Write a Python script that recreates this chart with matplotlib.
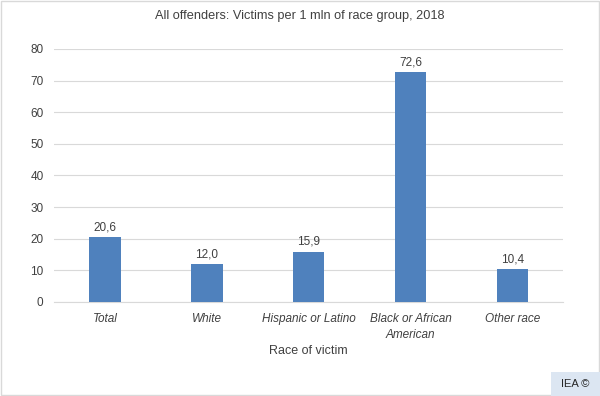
import numpy as np
import matplotlib
matplotlib.use('Agg')
import matplotlib.pyplot as plt
from matplotlib.patches import Rectangle

categories = ['Total', 'White', 'Hispanic or Latino', 'Black or African\nAmerican', 'Other race']
values = [20.6, 12.0, 15.9, 72.6, 10.4]
yticks = [0, 10, 20, 30, 40, 50, 60, 70, 80]

plt.rcParams['font.family'] = ['Liberation Sans', 'DejaVu Sans']
text_col = '#404040'

fig = plt.figure(figsize=(6, 3.96), dpi=100)
ax = fig.add_axes([0.09, 0.2374, 0.849, 0.639])

x = np.arange(len(categories))
bars = ax.bar(x, values, width=0.31, color='#4F81BD', zorder=3)
for xi, v in zip(x, values):
    ax.text(xi, v + 1.2, f'{v:.1f}'.replace('.', ','), ha='center', va='bottom',
            fontsize=8.5, color=text_col)

ax.set_xlim(-0.5, len(categories) - 0.5)
ax.set_ylim(0, 80)
ax.set_yticks(yticks)
ax.set_yticklabels([str(t) for t in yticks], fontsize=8.5, color=text_col)
ax.set_xticks(x)
ax.set_xticklabels(categories, fontsize=8.5, color=text_col, style='italic', linespacing=1.45)
ax.tick_params(axis='both', length=0)
ax.tick_params(axis='y', pad=7.5)
ax.tick_params(axis='x', pad=8)
ax.grid(axis='y', color='#D9D9D9', linewidth=0.8, zorder=0)
for s in ['top', 'right', 'left']:
    ax.spines[s].set_visible(False)
ax.spines['bottom'].set_color('#D9D9D9')
ax.spines['bottom'].set_linewidth(0.8)

ax.set_xlabel('Race of victim', fontsize=9, color=text_col, labelpad=3)
fig.text(0.5, 0.96, 'All offenders: Victims per 1 mln of race group, 2018',
         ha='center', va='center', fontsize=9.2, color=text_col)

# outer frame and credit box
fig.patches.append(Rectangle((0.002, 0.002), 0.996, 0.996, transform=fig.transFigure,
                             fill=False, edgecolor='#D9D9D9', linewidth=1))
fig.patches.append(Rectangle((551 / 600, 0), 49 / 600, 24 / 396, transform=fig.transFigure,
                             facecolor='#DCE6F2', edgecolor='none'))
fig.text(575 / 600, 12 / 396, 'IEA ©', ha='center', va='center', fontsize=8, color='#262626')

fig.savefig('out.png', dpi=100)
plt.close(fig)
